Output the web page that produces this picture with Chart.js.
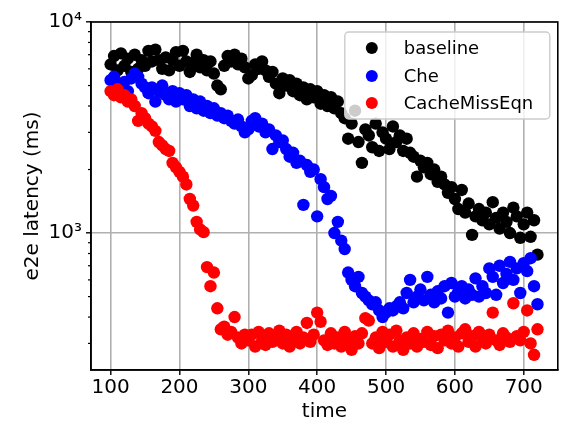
<!DOCTYPE html>
<html>
<head>
<meta charset="utf-8">
<script src="https://cdn.jsdelivr.net/npm/chart.js@4.4.1/dist/chart.umd.min.js"></script>
<style>
body { margin: 0; background: #fff; }
#chart { display: block; }
</style>
</head>
<body>
<canvas id="chart" width="564" height="426"></canvas>
<script>
// sample times (shared by all three runs)
var times = [
  100, 105, 110, 115, 120, 125, 130, 135, 140, 145,
  150, 155, 160, 165, 170, 175, 180, 185, 190, 195,
  200, 205, 210, 215, 220, 225, 230, 235, 240, 245,
  250, 255, 260, 265, 270, 275, 280, 285, 290, 295,
  300, 305, 310, 315, 320, 325, 330, 335, 340, 345,
  350, 355, 360, 365, 370, 375, 380, 385, 390, 395,
  400, 405, 410, 415, 420, 425, 430, 435, 440, 445,
  450, 455, 460, 465, 470, 475, 480, 485, 490, 495,
  500, 505, 510, 515, 520, 525, 530, 535, 540, 545,
  550, 555, 560, 565, 570, 575, 580, 585, 590, 595,
  600, 605, 610, 615, 620, 625, 630, 635, 640, 645,
  650, 655, 660, 665, 670, 675, 680, 685, 690, 695,
  700, 705, 710, 715, 720
];

// end-to-end latency in ms
var baseline = [
  6300, 6900, 5900, 7100, 6200, 6700, 5800, 7000, 6000, 6600,
  6200, 7300, 6500, 7400, 6600, 6000, 6800, 5900, 6600, 7200,
  6200, 7300, 6500, 5800, 6400, 7000, 6100, 6600, 5900, 6500,
  5700, 5000, 4800, 6200, 6900, 6500, 7000, 6300, 6700, 6100,
  5400, 5600, 6300, 6000, 6500, 5900, 5500, 5800, 5100, 4600,
  5400, 5000, 5300, 4700, 5100, 4500, 4900, 4300, 4800, 4400,
  4700, 4100, 4500, 4000, 4400, 3900, 4200, 3700, 3500, 2800,
  3300, 3800, 2700, 2150, 3100, 2900, 2550, 3300, 2450, 3000,
  2800, 2500, 3200, 2700, 2900, 2450, 2800, 2400, 2300, 1850,
  2200, 2050, 2150, 1900, 2000, 1750, 1850, 1700, 1550, 1650,
  1450, 1300, 1600, 1250, 1380, 980, 1200, 1300, 1150, 1250,
  1100, 1400, 1180, 1050, 1250, 1130, 1000, 1320, 1200, 950,
  1100, 1250, 960, 1150, 790
];
var che = [
  5300, 5500, 5000, 4800, 5200, 4700, 5400, 5700, 5500, 5100,
  4900, 4600, 4900, 4200, 4700, 5000, 4500, 4300, 4700, 4200,
  4600, 4300, 4500, 4000, 4300, 3900, 4200, 3800, 4000, 3700,
  3900, 3600, 3700, 3500, 3600, 3400, 3300, 3450, 3200, 3000,
  3100, 3400, 3500, 3200, 3300, 3000, 3100, 2500, 2900, 2700,
  2750, 2500, 2300, 2400, 2150, 2200, 1360, 2100, 1950, 2000,
  1200, 1800, 1650, 1450, 1500, 1000, 1130, 920, 840, 650,
  600, 560, 620, 520, 500, 480, 460, 470, 430, 400,
  420, 440, 430, 450, 470, 440, 520, 600, 470, 500,
  540, 480, 620, 510, 470, 530, 490, 560, 420, 580,
  500, 530, 560, 490, 540, 510, 610, 500, 560, 520,
  680, 620, 510, 700, 580, 640, 730, 600, 680, 520,
  720, 660, 760, 560, 460
];
var cacheMissEqn = [
  4700, 4500, 4800, 4400, 4500, 4200, 4300, 4000, 3400, 3700,
  3500, 3300, 3200, 3050, 2700, 2600, 2500, 2450, 2150, 2050,
  1950, 1850, 1700, 1450, 1350, 1130, 1040, 1010, 690, 560,
  650, 440, 350, 360, 330, 340, 400, 320, 300, 330,
  310, 330, 290, 340, 310, 295, 335, 305, 320, 345,
  300, 330, 290, 315, 340, 300, 320, 375, 305, 330,
  420, 380, 310, 295, 335, 300, 320, 290, 340, 310,
  280, 325, 300, 335, 395, 385, 300, 320, 285, 340,
  305, 330, 290, 345, 310, 280, 320, 300, 335, 290,
  315, 305, 340, 295, 325, 285, 330, 310, 345, 300,
  320, 290, 335, 350, 305, 325, 290, 340, 315, 300,
  330, 420, 310, 295, 335, 320, 305, 465, 325, 310,
  340, 430, 300, 265, 350
];

var xTicks = [100, 200, 300, 400, 500, 600, 700];
var seriesNames = ['baseline', 'Che', 'CacheMissEqn'];
var seriesColors = ['black', 'blue', 'red'];

var sup = { 2: '\u00b2', 3: '\u00b3', 4: '\u2074' };
function isPow10(v) {
  var e = Math.log10(v);
  return Math.abs(e - Math.round(e)) < 1e-9;
}
function isMinor(v) {
  var e = Math.floor(Math.log10(v) + 1e-9);
  var m = v / Math.pow(10, e);
  return Math.abs(m - Math.round(m)) < 1e-6 && Math.round(m) !== 1;
}
function points(vals) {
  return times.map(function (t, i) { return { x: t, y: vals[i] }; });
}

Chart.defaults.font.family = 'DejaVu Sans';
Chart.defaults.color = 'black';

// short minor ticks on the log axis
var minorTicks = {
  id: 'minorTicks',
  afterDraw: function (chart) {
    var y = chart.scales.y, ctx = chart.ctx, left = chart.chartArea.left;
    ctx.save();
    ctx.strokeStyle = 'black';
    ctx.lineWidth = 1.2;
    y.ticks.forEach(function (t) {
      if (!isMinor(t.value)) return;
      var py = y.getPixelForValue(t.value);
      ctx.beginPath();
      ctx.moveTo(left, py);
      ctx.lineTo(left - 3, py);
      ctx.stroke();
    });
    ctx.restore();
  }
};

// top/right spines plus the boxed legend in the upper right
var frameAndLegend = {
  id: 'frameAndLegend',
  afterDraw: function (chart) {
    var ctx = chart.ctx, a = chart.chartArea;
    ctx.save();
    ctx.strokeStyle = 'black';
    ctx.lineWidth = 1.6;
    ctx.strokeRect(a.left, a.top, a.right - a.left, a.bottom - a.top);

    var w = 205, h = 87;
    var bx = a.right - 8 - w, by = a.top + 10;
    ctx.beginPath();
    ctx.roundRect(bx, by, w, h, 4);
    ctx.fillStyle = 'rgba(255,255,255,0.8)';
    ctx.fill();
    ctx.strokeStyle = '#cccccc';
    ctx.lineWidth = 1.4;
    ctx.stroke();

    ctx.font = '18px "DejaVu Sans"';
    ctx.textBaseline = 'middle';
    ctx.textAlign = 'left';
    var rows = [16, 44, 71];
    chart.data.datasets.forEach(function (ds, i) {
      ctx.beginPath();
      ctx.arc(bx + 27, by + rows[i], 6, 0, Math.PI * 2);
      ctx.fillStyle = ds.backgroundColor;
      ctx.fill();
      ctx.fillStyle = 'black';
      ctx.fillText(ds.label, bx + 59, by + rows[i] + 1);
    });
    ctx.restore();
  }
};

var seriesData = [baseline, che, cacheMissEqn];

new Chart(document.getElementById('chart'), {
  type: 'scatter',
  data: {
    datasets: seriesData.map(function (vals, i) {
      return {
        label: seriesNames[i],
        data: points(vals),
        backgroundColor: seriesColors[i],
        borderWidth: 0,
        pointRadius: 6.2,
        order: 3 - i
      };
    })
  },
  options: {
    responsive: false,
    animation: false,
    devicePixelRatio: 1,
    layout: { padding: { left: 0, right: 5, top: 22, bottom: 0 } },
    plugins: {
      legend: { display: false },
      tooltip: { enabled: false }
    },
    scales: {
      x: {
        type: 'linear',
        min: 71.5,
        max: 749.5,
        afterBuildTicks: function (scale) {
          scale.ticks = xTicks.map(function (v) { return { value: v }; });
        },
        ticks: { font: { size: 20 }, padding: 1, maxRotation: 0, includeBounds: false },
        grid: { color: '#b0b0b0', lineWidth: 1.6, tickLength: 5, tickColor: 'black', tickWidth: 1.4 },
        border: { color: 'black', width: 1.6 },
        title: { display: true, text: 'time', font: { size: 20 }, padding: { top: 0, bottom: 2 } },
        afterFit: function (scale) { scale.height = 56; }
      },
      y: {
        type: 'logarithmic',
        min: 224.5,
        max: 10000,
        ticks: {
          autoSkip: false,
          font: { size: 20 },
          padding: 4,
          callback: function (v) {
            return isPow10(v) ? '10' + sup[Math.round(Math.log10(v))] : '';
          }
        },
        grid: {
          lineWidth: 1.6,
          tickLength: 5,
          tickWidth: 1.4,
          color: function (c) { return c.tick && isPow10(c.tick.value) ? '#b0b0b0' : 'rgba(0,0,0,0)'; },
          tickColor: function (c) { return c.tick && isPow10(c.tick.value) ? 'black' : 'rgba(0,0,0,0)'; }
        },
        border: { color: 'black', width: 1.6 },
        title: { display: true, text: 'e2e latency (ms)', font: { size: 20 }, padding: { top: 21, bottom: 0 } },
        afterFit: function (scale) { scale.width = 91; }
      }
    }
  },
  plugins: [minorTicks, frameAndLegend]
});
</script>
</body>
</html>
